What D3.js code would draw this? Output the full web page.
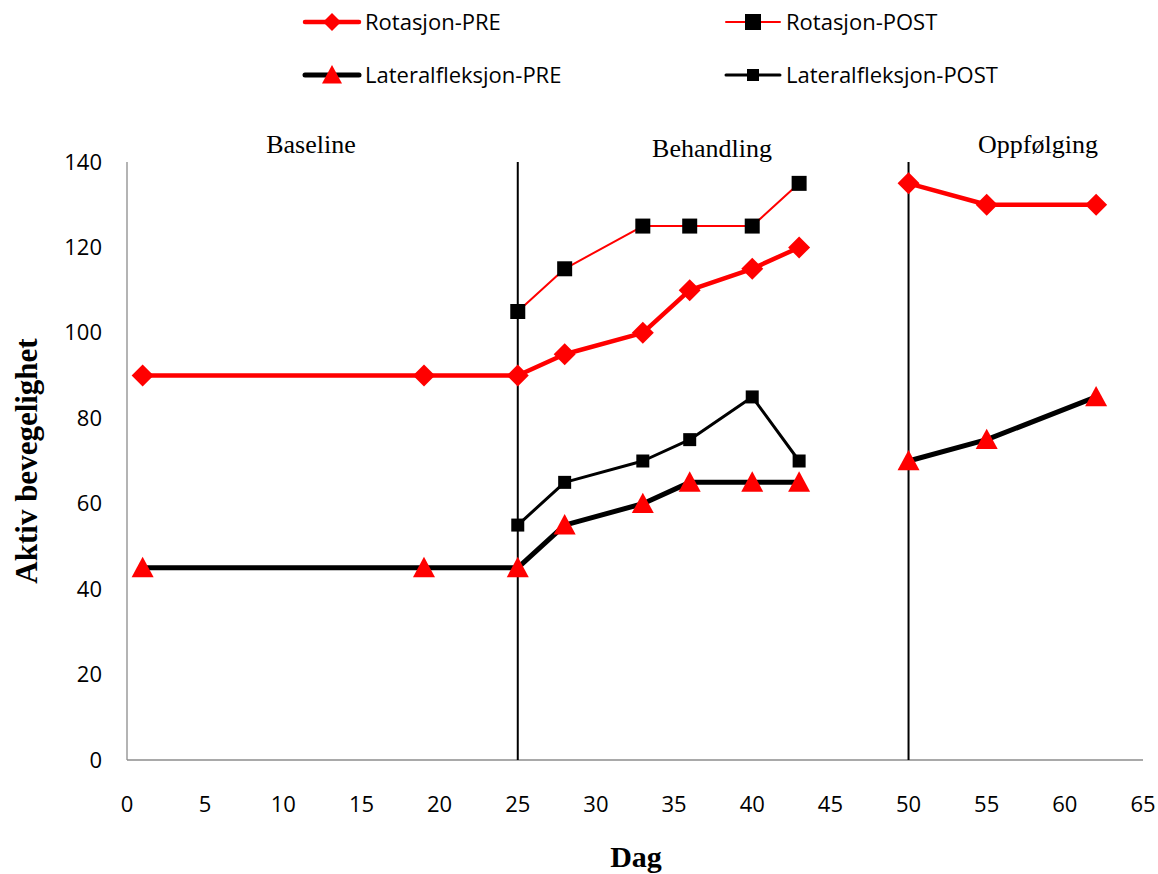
<!DOCTYPE html>
<html>
<head>
<meta charset="utf-8">
<script src="https://cdn.jsdelivr.net/npm/d3@7"></script>
<style>
  body { margin: 0; background: #fff; }
  svg { display: block; }
</style>
</head>
<body>
<svg id="chart" width="1158" height="874"></svg>
<script>
// data (gap between treatment and follow-up at day 50)
const rotPreX = [1, 19, 25, 28, 33, 36, 40, 43, 50, 55, 62];
const rotPreY = [90, 90, 90, 95, 100, 110, 115, 120, 135, 130, 130];
const rotPostX = [25, 28, 33, 36, 40, 43];
const rotPostY = [105, 115, 125, 125, 125, 135];
const latPreX = [1, 19, 25, 28, 33, 36, 40, 43, 50, 55, 62];
const latPreY = [45, 45, 45, 55, 60, 65, 65, 65, 70, 75, 85];
const latPostX = [25, 28, 33, 36, 40, 43];
const latPostY = [55, 65, 70, 75, 85, 70];
const phaseLines = [25, 50];
const phaseLabels = ["Baseline", "Behandling", "Oppfølging"];
const xTicks = d3.range(0, 66, 5);
const yTicks = d3.range(0, 141, 20);

const svg = d3.select("#chart");
const margin = { left: 127, right: 15, top: 162, bottom: 114 };
const W = 1158, H = 874;

const x = d3.scaleLinear().domain([0, 65]).range([margin.left, W - margin.right]);
const y = d3.scaleLinear().domain([0, 140]).range([H - margin.bottom, margin.top]);

const sansFont = "'Open Sans', 'Noto Sans', sans-serif";
const serifFont = "'Liberation Serif', 'Times New Roman', serif";

// axes: gray line, no ticks
svg.append("line")
  .attr("x1", x(0)).attr("x2", x(0))
  .attr("y1", y(0)).attr("y2", y(140))
  .attr("stroke", "#8c8c8c").attr("stroke-width", 1.3);
svg.append("line")
  .attr("x1", x(0)).attr("x2", x(65))
  .attr("y1", y(0)).attr("y2", y(0))
  .attr("stroke", "#8c8c8c").attr("stroke-width", 1.3);

svg.selectAll(".ytick").data(yTicks).enter().append("text")
  .attr("x", x(0) - 25).attr("y", (d) => y(d) + 7.5)
  .attr("text-anchor", "end")
  .style("font-family", sansFont).style("font-size", "22px")
  .text((d) => d);

svg.selectAll(".xtick").data(xTicks).enter().append("text")
  .attr("x", (d) => x(d)).attr("y", y(0) + 52)
  .attr("text-anchor", "middle")
  .style("font-family", sansFont).style("font-size", "22px")
  .text((d) => d);

// axis titles
svg.append("text")
  .attr("x", 636).attr("y", 867)
  .attr("text-anchor", "middle")
  .style("font-family", serifFont).style("font-size", "30px").style("font-weight", "bold")
  .text("Dag");
svg.append("text")
  .attr("transform", `translate(37, ${y(70)}) rotate(-90)`)
  .attr("text-anchor", "middle")
  .style("font-family", serifFont).style("font-size", "31px").style("font-weight", "bold")
  .text("Aktiv bevegelighet");

// phase separators
svg.selectAll(".phase").data(phaseLines).enter().append("line")
  .attr("x1", (d) => x(d)).attr("x2", (d) => x(d))
  .attr("y1", y(0)).attr("y2", y(140))
  .attr("stroke", "#000").attr("stroke-width", 2);

const phasePos = [[311, 153], [712, 157], [1038, 153]];
svg.selectAll(".phaselabel").data(phaseLabels).enter().append("text")
  .attr("x", (d, i) => phasePos[i][0]).attr("y", (d, i) => phasePos[i][1])
  .attr("text-anchor", "middle")
  .style("font-family", serifFont).style("font-size", "26px")
  .text((d) => d);

// series
const series = [
  { name: "Rotasjon-PRE", xs: rotPreX, ys: rotPreY, line: "#ff0000", width: 4.5, marker: "diamond", size: 11, legSize: 9, fill: "#ff0000", breakAt: 50 },
  { name: "Rotasjon-POST", xs: rotPostX, ys: rotPostY, line: "#ff0000", width: 2, marker: "square", size: 7.5, legSize: 8, fill: "#000", breakAt: null },
  { name: "Lateralfleksjon-PRE", xs: latPreX, ys: latPreY, line: "#000", width: 5, marker: "triangle", size: 11, legSize: 10, fill: "#ff0000", breakAt: 50 },
  { name: "Lateralfleksjon-POST", xs: latPostX, ys: latPostY, line: "#000", width: 3, marker: "square", size: 6.5, legSize: 6, fill: "#000", breakAt: null }
];

function markerPath(type, s) {
  if (type === "diamond") return `M0,${-s}L${s},0L0,${s}L${-s},0Z`;
  if (type === "square") return `M${-s},${-s}H${s}V${s}H${-s}Z`;
  return `M0,${-s}L${s * 1.0},${s * 0.85}H${-s * 1.0}Z`;
}

series.forEach((s) => {
  const pts = s.xs.map((d, i) => ({ x: d, y: s.ys[i] }));
  const segs = s.breakAt == null
    ? [pts]
    : [pts.filter((p) => p.x < s.breakAt), pts.filter((p) => p.x >= s.breakAt)];
  const line = d3.line().x((d) => x(d.x)).y((d) => y(d.y));
  segs.forEach((seg) => {
    svg.append("path").datum(seg)
      .attr("d", line).attr("fill", "none")
      .attr("stroke", s.line).attr("stroke-width", s.width)
      .attr("stroke-linejoin", "round");
  });
  svg.selectAll(null).data(pts).enter().append("path")
    .attr("transform", (d) => `translate(${x(d.x)},${y(d.y)})`)
    .attr("d", markerPath(s.marker, s.size))
    .attr("fill", s.fill);
});

// legend
const legendPos = [[305, 22], [726, 22], [305, 75], [726, 75]];
series.forEach((s, i) => {
  const [lx, ly] = legendPos[i];
  const g = svg.append("g").attr("transform", `translate(${lx},${ly})`);
  g.append("line").attr("x1", 0).attr("x2", 54).attr("y1", 0).attr("y2", 0)
    .attr("stroke", s.line).attr("stroke-width", s.width)
    .attr("stroke-linecap", "round");
  g.append("path").attr("transform", "translate(27,0)")
    .attr("d", markerPath(s.marker, s.legSize)).attr("fill", s.fill);
  g.append("text").attr("x", 60).attr("y", 8)
    .style("font-family", sansFont).style("font-size", "22px")
    .text(s.name);
});
</script>
</body>
</html>
